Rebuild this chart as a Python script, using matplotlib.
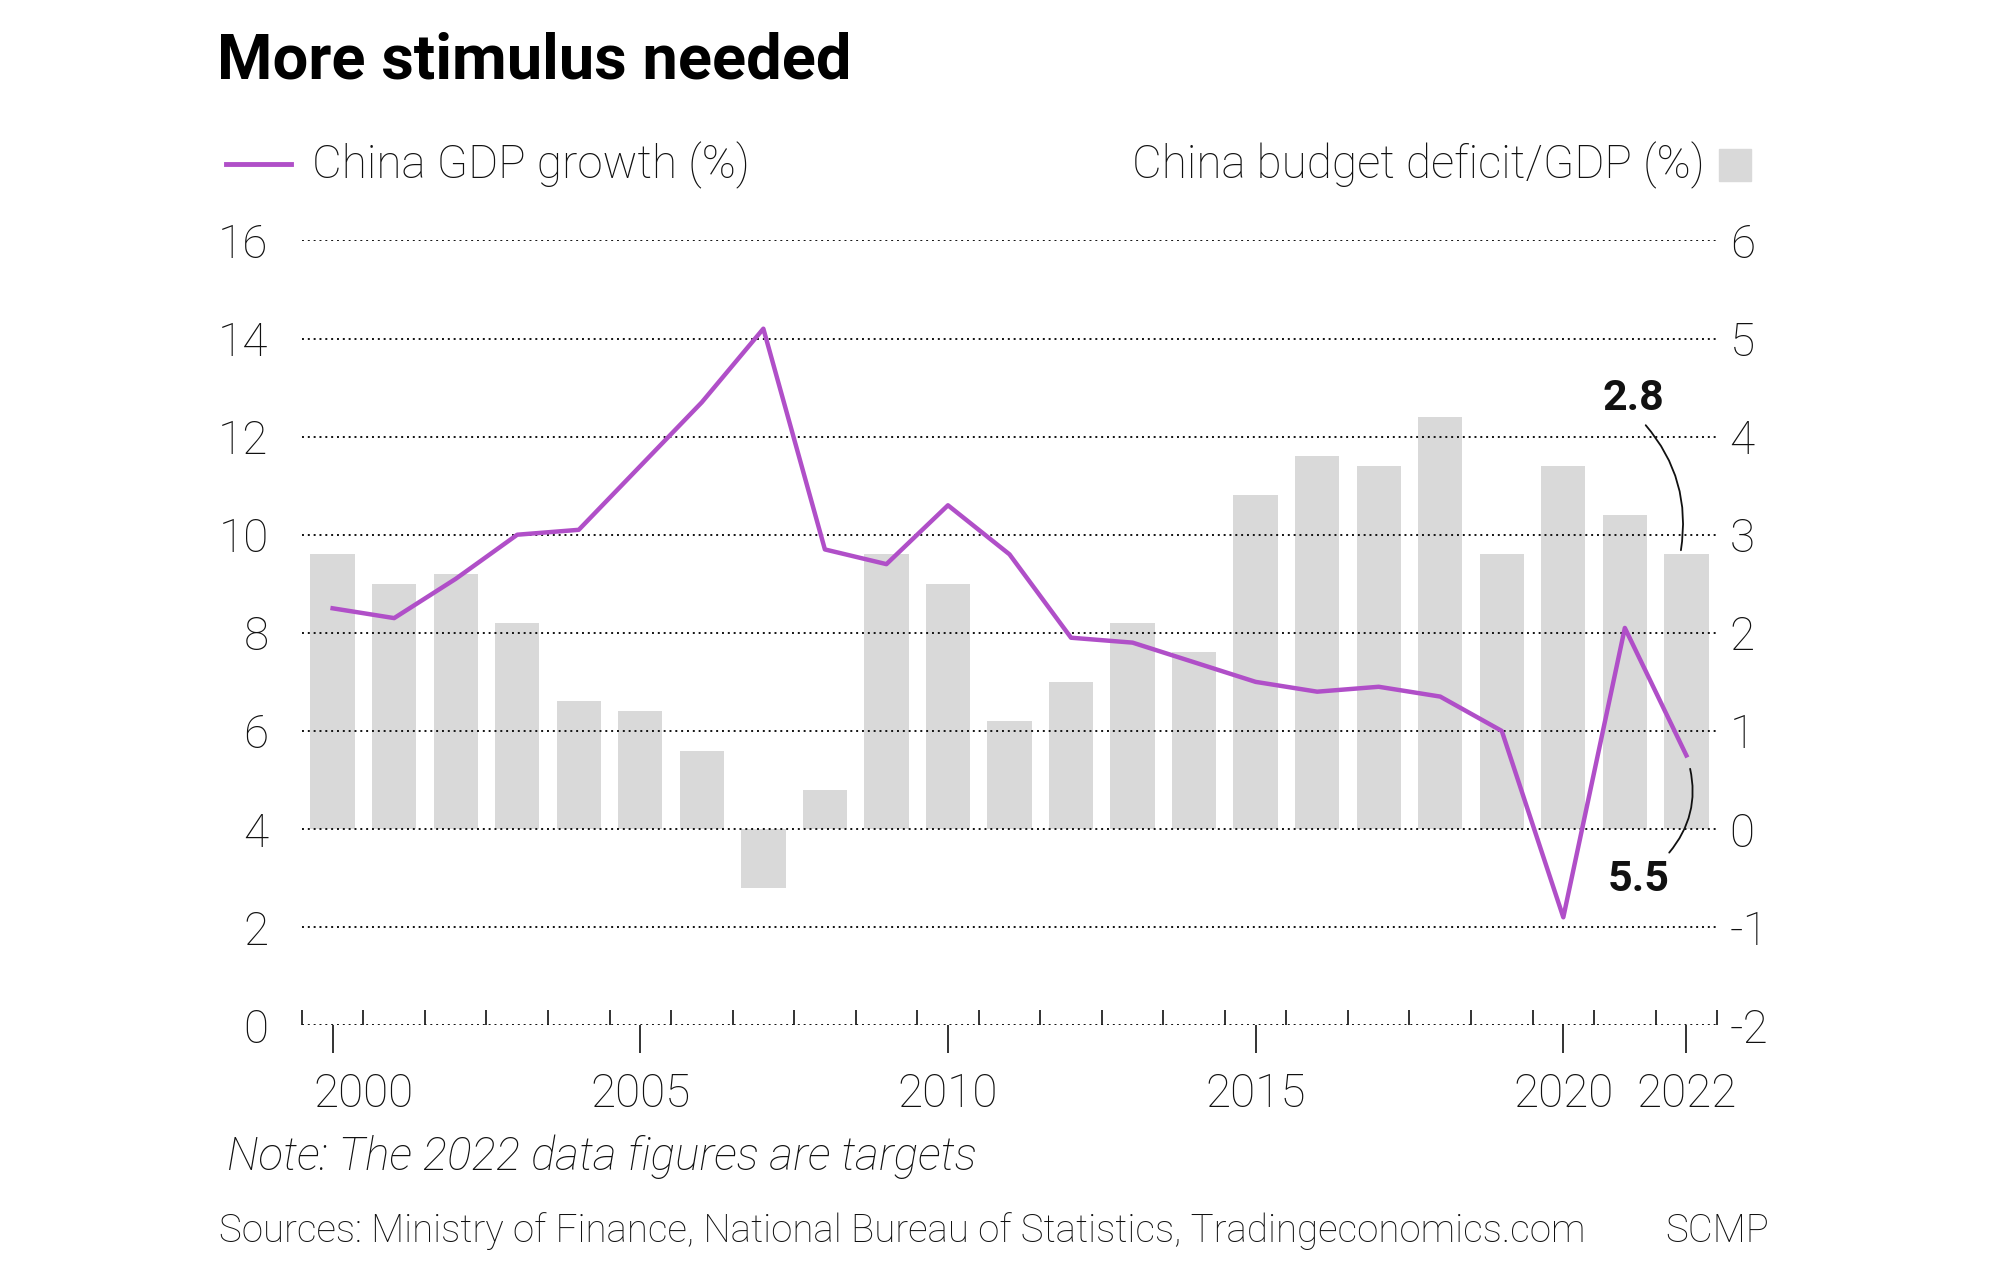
import numpy as np
import matplotlib.pyplot as plt
from matplotlib.lines import Line2D
from matplotlib.patches import Rectangle
from matplotlib.transforms import ScaledTranslation

years = list(range(2000, 2023))
gdp_growth = [8.5, 8.3, 9.1, 10.0, 10.1, 11.4, 12.7, 14.2, 9.7, 9.4, 10.6, 9.6,
              7.9, 7.8, 7.4, 7.0, 6.8, 6.9, 6.7, 6.0, 2.2, 8.1, 5.5]
deficit = [2.8, 2.5, 2.6, 2.1, 1.3, 1.2, 0.8, -0.6, 0.4, 2.8, 2.5, 1.1,
           1.5, 2.1, 1.8, 3.4, 3.8, 3.7, 4.2, 2.8, 3.7, 3.2, 2.8]
left_ticks = [0, 2, 4, 6, 8, 10, 12, 14, 16]
right_ticks = [-2, -1, 0, 1, 2, 3, 4, 5, 6]
labelled_years = [2000, 2005, 2010, 2015, 2020, 2022]

purple = '#b04fc8'
grey = '#d9d9d9'
ink = '#111111'

plt.rcParams['font.family'] = ['Roboto', 'DejaVu Sans']

fig = plt.figure(figsize=(19.99, 12.72), dpi=100)
ax = fig.add_axes([0.151, 0.194, 0.708, 0.617])
ax2 = ax.twinx()

# bars on right axis, line on left axis (line drawn above bars)
ax2.bar(years, deficit, width=0.72, color=grey, zorder=1)
ax.set_zorder(ax2.get_zorder() + 1)
ax.patch.set_visible(False)
ax.plot(years, gdp_growth, color=purple, lw=3.2, solid_joinstyle='round', zorder=5)

ax.set_xlim(1999.5, 2022.5)
ax.set_ylim(0, 16)
ax2.set_ylim(-2, 6)
ax.set_yticks(left_ticks)
ax2.set_yticks(right_ticks)
ax2.set_yticklabels(['-2', '-1', '0', '1', '2', '3', '4', '5', '6'])

for a in (ax, ax2):
    for s in a.spines.values():
        s.set_visible(False)

for y in left_ticks:
    ax.axhline(y, color=ink, lw=1.4, ls=(0, (1, 2)), zorder=0)

ax.tick_params(axis='y', length=0, labelsize=33, pad=24, labelcolor=ink)
ax2.tick_params(axis='y', length=0, labelsize=33, pad=9, labelcolor=ink)
for lab in ax.get_yticklabels() + ax2.get_yticklabels():
    lab.set_fontweight('light')

ax.set_xticks(labelled_years)
ax.set_xticklabels([str(y) for y in labelled_years], fontsize=33, fontweight='light', color=ink)
ax.set_xticks(np.arange(1999.5, 2023, 1), minor=True)
ax.tick_params(axis='x', which='major', direction='out', length=20, width=1.2, pad=14, color=ink)
ax.tick_params(axis='x', which='minor', direction='in', length=11, width=1.2, color=ink)
first = ax.get_xticklabels()[0]
first.set_transform(first.get_transform() + ScaledTranslation(0.31, 0, fig.dpi_scale_trans))

# annotations for 2022 targets
ax2.annotate('2.8', xy=(2021.9, deficit[-1]), xytext=(-34, 112), textcoords='offset points',
             ha='center', va='center', fontsize=31, fontweight='bold', color=ink,
             arrowprops=dict(arrowstyle='-', color=ink, lw=1.3, shrinkA=3, shrinkB=3,
                             relpos=(0.62, 0), connectionstyle='arc3,rad=-0.25'))
ax.annotate('5.5', xy=(2022, gdp_growth[-1]), xytext=(-34, -89), textcoords='offset points',
            ha='center', va='center', fontsize=31, fontweight='bold', color=ink,
            arrowprops=dict(arrowstyle='-', color=ink, lw=1.3, shrinkA=3, shrinkB=10,
                            relpos=(0.9, 1), connectionstyle='arc3,rad=0.3'))

# title and legend
fig.text(0.1085, 0.938, 'More stimulus needed', fontsize=45.5, fontweight='bold',
         color='black', va='baseline')
fig.add_artist(Line2D([226 / 1999, 291 / 1999], [0.871, 0.871], color=purple, lw=3.5))
fig.text(0.156, 0.870, 'China GDP growth (%)', fontsize=33, fontweight='light',
         color=ink, va='center')
fig.text(0.853, 0.870, 'China budget deficit/GDP (%)', fontsize=33, fontweight='light',
         color=ink, va='center', ha='right')
fig.add_artist(Rectangle((1719 / 1999, 1 - 181 / 1272), 32 / 1999, 32 / 1272,
                         color=grey, transform=fig.transFigure))

fig.text(0.1135, 0.0905, 'Note: The 2022 data figures are targets', fontsize=33,
         fontweight='light', style='italic', color=ink, va='center')
fig.text(0.1095, 0.032, 'Sources: Ministry of Finance, National Bureau of Statistics, Tradingeconomics.com',
         fontsize=27.7, fontweight='light', color=ink, va='center')
fig.text(0.885, 0.032, 'SCMP', fontsize=27.7, fontweight='light', color=ink,
         va='center', ha='right')

fig.savefig('out.png', dpi=100)
